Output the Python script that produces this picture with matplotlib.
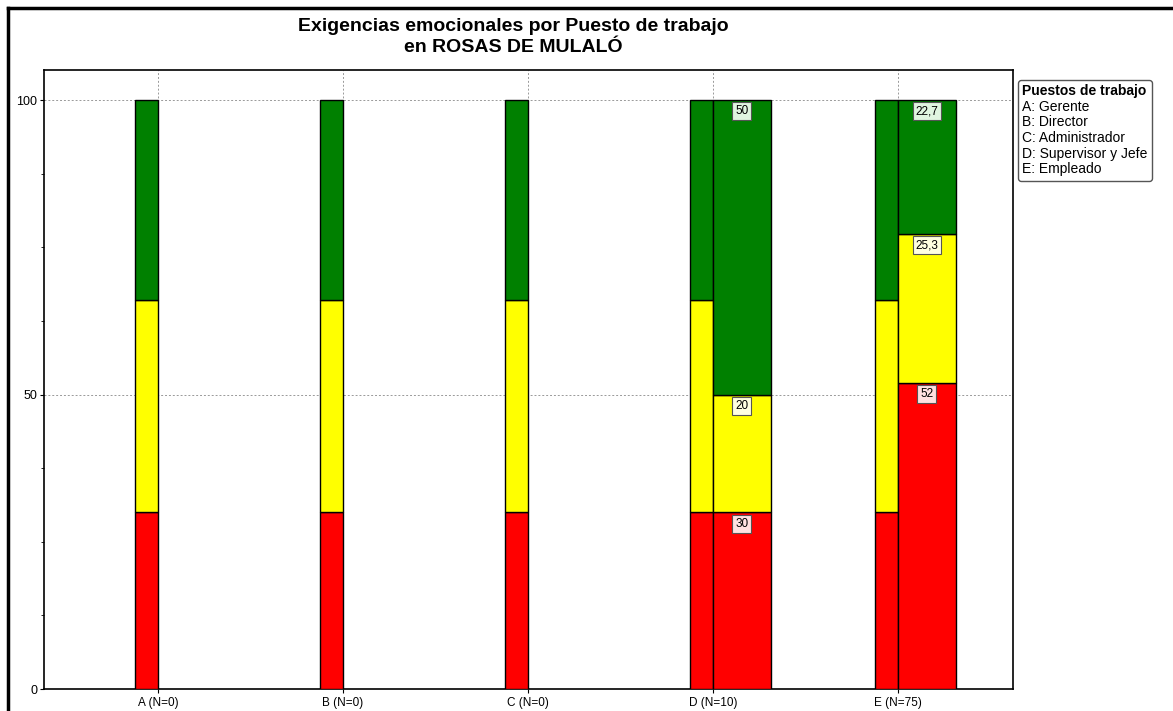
import numpy as np
import matplotlib
matplotlib.use("Agg")
import matplotlib.pyplot as plt
from matplotlib.lines import Line2D
from matplotlib.ticker import MultipleLocator

plt.rcParams['font.family'] = ['Liberation Sans', 'DejaVu Sans']

# data
categories = ["A (N=0)", "B (N=0)", "C (N=0)", "D (N=10)", "E (N=75)"]
legend_items = ["A: Gerente", "B: Director", "C: Administrador", "D: Supervisor y Jefe", "E: Empleado"]

# reference bar (same for every category): red, yellow, green
ref_red = [30, 30, 30, 30, 30]
ref_yellow = [36, 36, 36, 36, 36]
ref_green = [34, 34, 34, 34, 34]

# observed values (only D and E have data)
obs_idx = [3, 4]
obs_red = [30, 52]
obs_yellow = [20, 25.3]
obs_green = [50, 22.7]

RED, YELLOW, GREEN = "#ff0000", "#ffff00", "#008000"
LIGHT = {RED: "#ffe0e0", YELLOW: "#ffffe0", GREEN: "#e0f5e0"}

fig = plt.figure(figsize=(11.73, 7.11), dpi=100)
ax = fig.add_axes([44 / 1173, 22 / 711, (1013 - 44) / 1173, (689 - 70) / 711])

x = np.arange(len(categories))
w_ref = 0.124
w_obs = 0.31

# reference bars sit just left of each category position
bottom = np.zeros(len(categories))
for vals, col in [(ref_red, RED), (ref_yellow, YELLOW), (ref_green, GREEN)]:
    ax.bar(x - w_ref / 2, vals, w_ref, bottom=bottom, color=col, edgecolor="black", linewidth=1, zorder=3)
    bottom += np.array(vals)

# observed bars just right of the category position
xo = x[obs_idx]
bottom = np.zeros(len(obs_idx))
for vals, col in [(obs_red, RED), (obs_yellow, YELLOW), (obs_green, GREEN)]:
    ax.bar(xo + w_obs / 2, vals, w_obs, bottom=bottom, color=col, edgecolor="black", linewidth=1, zorder=3)
    for xi, b, v in zip(xo, bottom, vals):
        txt = ("%g" % v).replace(".", ",")
        ax.text(xi + w_obs / 2, b + v - 0.9, txt, ha="center", va="top", fontsize=8.5, zorder=5,
                bbox=dict(boxstyle="square,pad=0.25", facecolor=LIGHT[col], edgecolor="#555555", linewidth=0.8))
    bottom += np.array(vals)

ax.set_xlim(-0.616, 4.62)
ax.set_ylim(0, 105.1)
ax.set_xticks(x)
ax.set_xticklabels(categories, fontsize=8.5)
ax.set_yticks([0, 50, 100])
ax.tick_params(axis="y", labelsize=9, length=3, pad=2)
ax.tick_params(axis="x", length=3, pad=3)
ax.yaxis.set_minor_locator(MultipleLocator(12.5))
ax.tick_params(axis="y", which="minor", length=2)
ax.grid(True, linestyle=(0, (2, 2)), color="#999999", linewidth=0.7, zorder=0)
for s in ax.spines.values():
    s.set_linewidth(1.2)

fig.text(513 / 1173, 1 - 37 / 711, "Exigencias emocionales por Puesto de trabajo\nen ROSAS DE MULALÓ",
         ha="center", va="center", fontsize=14, fontweight="bold", linespacing=1.3)

# outer frame (left and top edges visible)
fig.add_artist(Line2D([8 / 1173, 8 / 1173], [0, 1 - 8 / 711], color="black", linewidth=2.5, transform=fig.transFigure))
fig.add_artist(Line2D([8 / 1173, 1], [1 - 8 / 711, 1 - 8 / 711], color="black", linewidth=2.5, transform=fig.transFigure))

handles = [Line2D([], [], linestyle="none") for _ in legend_items]
leg = fig.legend(handles, legend_items, title="Puestos de trabajo", loc="upper left",
                 bbox_to_anchor=(1018 / 1173, 1 - 80 / 711), fontsize=10, title_fontsize=10,
                 handlelength=0, handletextpad=0, labelspacing=0.12, borderpad=0.3, borderaxespad=0,
                 fancybox=True, framealpha=1, edgecolor="#555555", alignment="left")
leg.get_title().set_fontweight("bold")
leg.get_frame().set_linewidth(1)

fig.savefig("out.png", dpi=100)
